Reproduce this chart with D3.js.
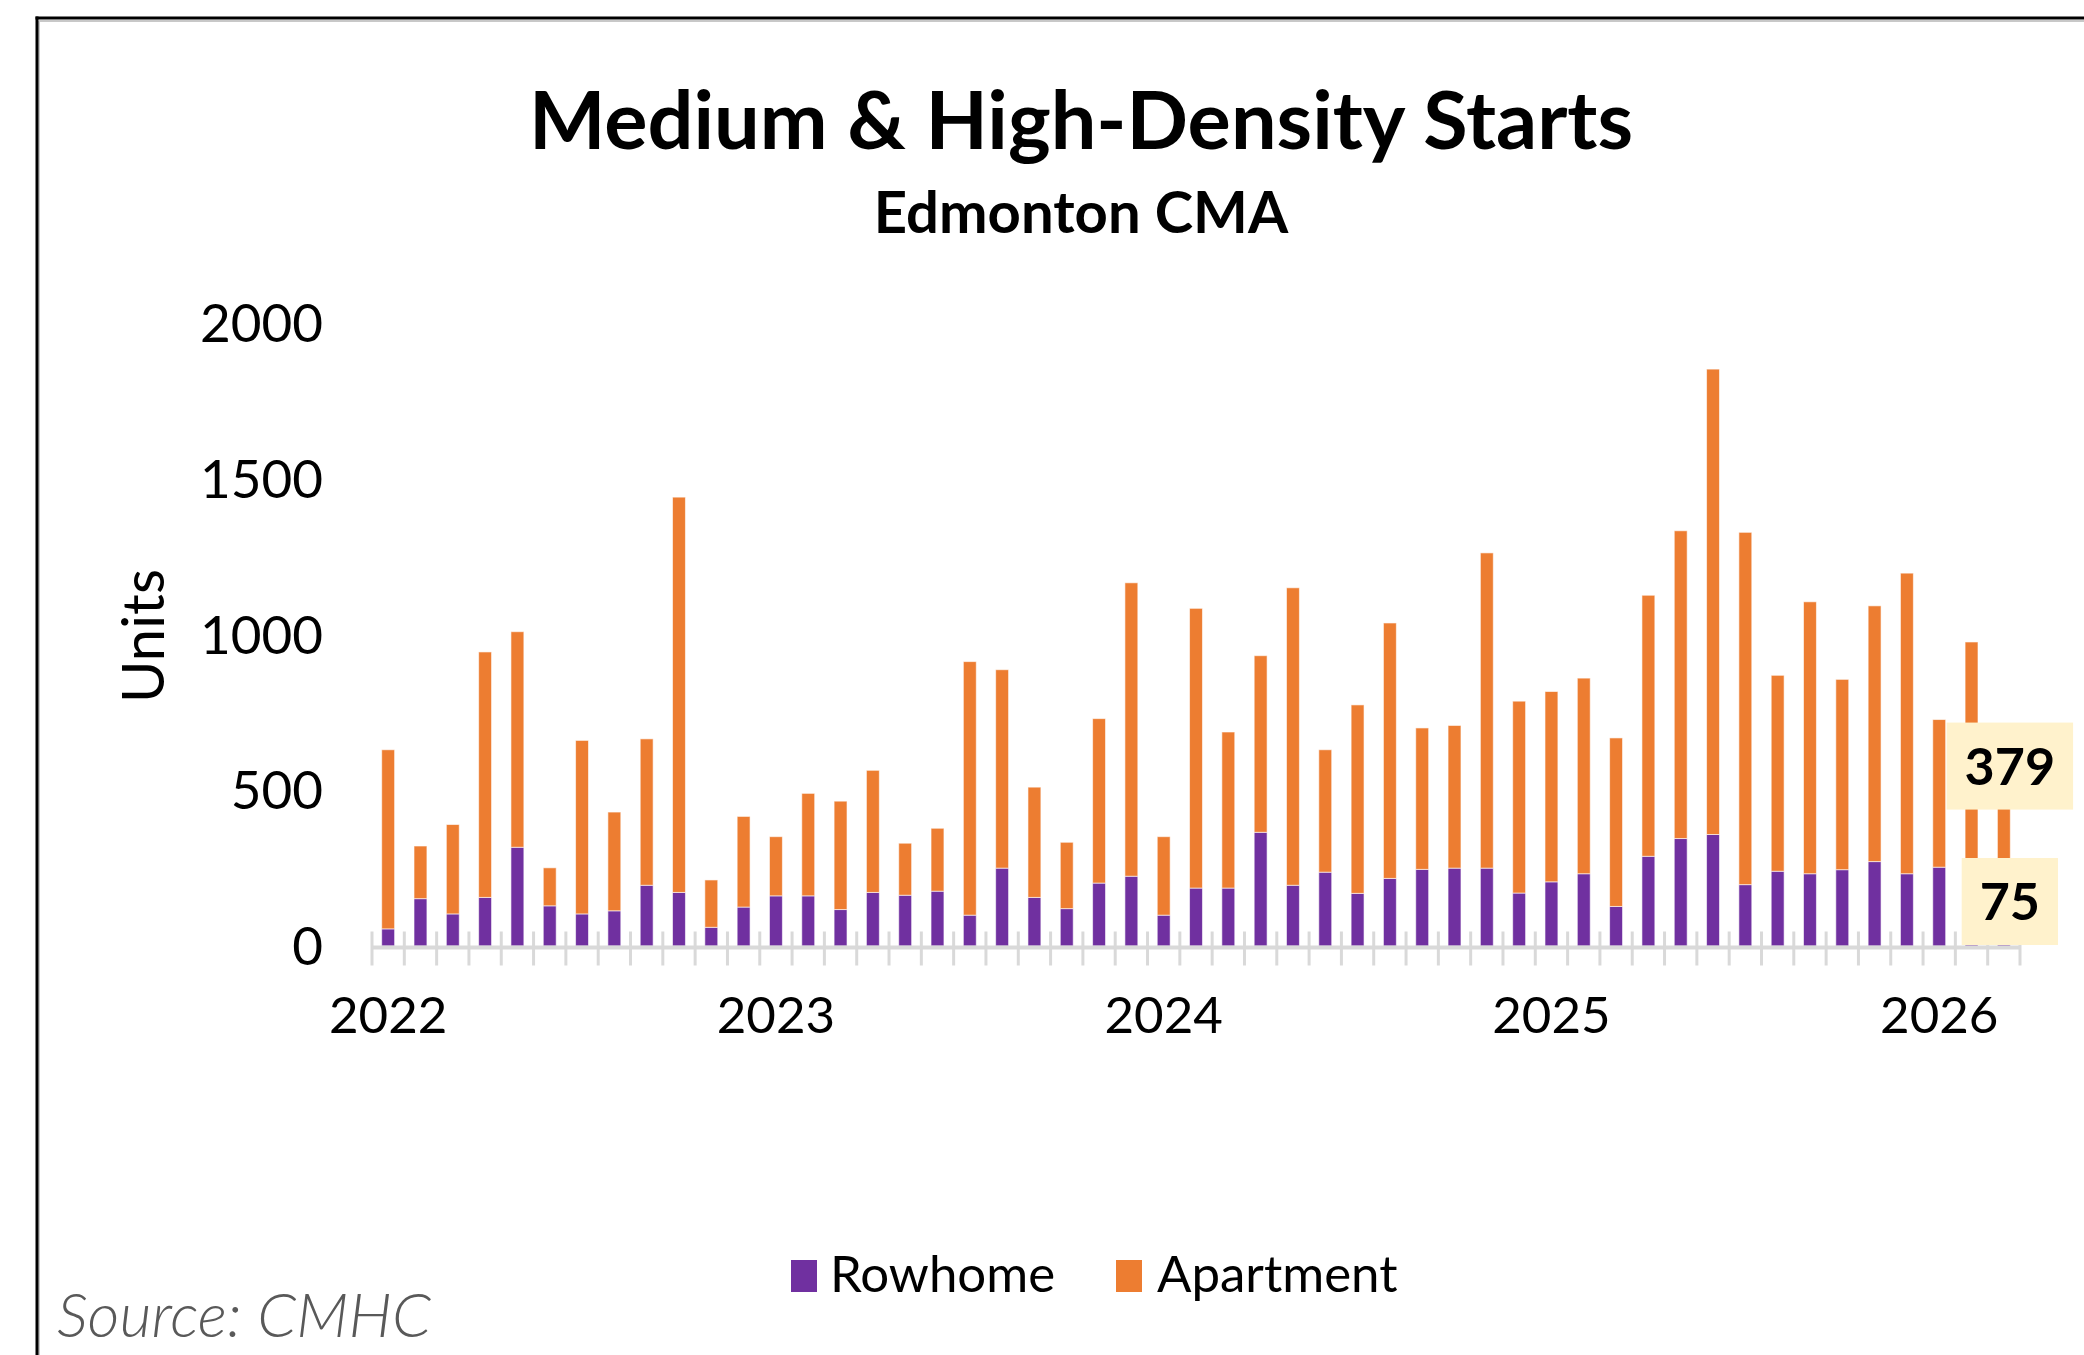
<!DOCTYPE html>
<html>
<head>
<meta charset="utf-8">
<script src="https://cdn.jsdelivr.net/npm/d3@7"></script>
<style>
  html, body { margin: 0; padding: 0; background: #fff; }
  svg { display: block; }
  text { font-family: Lato, "Open Sans", sans-serif; }
</style>
</head>
<body>
<script>
// ---- Data ----
const months = [
  "2022-01","2022-02","2022-03","2022-04","2022-05","2022-06","2022-07","2022-08","2022-09","2022-10","2022-11","2022-12",
  "2023-01","2023-02","2023-03","2023-04","2023-05","2023-06","2023-07","2023-08","2023-09","2023-10","2023-11","2023-12",
  "2024-01","2024-02","2024-03","2024-04","2024-05","2024-06","2024-07","2024-08","2024-09","2024-10","2024-11","2024-12",
  "2025-01","2025-02","2025-03","2025-04","2025-05","2025-06","2025-07","2025-08","2025-09","2025-10","2025-11","2025-12",
  "2026-01","2026-02","2026-03"
];
const rowhome = [
  55,152,103,156,317,129,103,113,195,172,60,125,
  161,161,117,172,163,176,99,250,156,120,202,224,
  99,186,186,365,195,237,169,217,246,250,250,170,
  206,232,127,288,345,358,197,240,232,245,271,232,
  253,230,75
];
const apartment = [
  575,169,287,788,692,122,557,317,470,1269,152,291,
  190,329,348,392,167,202,814,637,354,213,528,942,
  252,898,501,567,955,393,605,820,454,458,1012,616,
  611,628,541,838,988,1494,1131,629,873,611,821,965,
  474,746,379
];
const seriesNames = ["Rowhome", "Apartment"];
const seriesColors = ["#7030a0", "#ed7d31"];
const yTicks = [0, 500, 1000, 1500, 2000];
const yearTickMonths = ["2022-01","2023-01","2024-01","2025-01","2026-01"];
const yearTickLabels = ["2022","2023","2024","2025","2026"];
const titleText = "Medium & High-Density Starts";
const subtitleText = "Edmonton CMA";
const yAxisTitle = "Units";
const sourceText = "Source: CMHC";

// ---- Layout ----
const W = 2084, H = 1355;
const svg = d3.select("body").append("svg").attr("width", W).attr("height", H);

svg.append("rect").attr("width", W).attr("height", H).attr("fill", "#fff");

// frame (top + left lines)
svg.append("line").attr("x1", 39).attr("x2", W).attr("y1", 21).attr("y2", 21)
  .attr("stroke", "#c8c8c8").attr("stroke-width", 2);
svg.append("line").attr("x1", 39).attr("x2", 39).attr("y1", 21).attr("y2", H)
  .attr("stroke", "#c8c8c8").attr("stroke-width", 2);
svg.append("line").attr("x1", 35.5).attr("x2", W).attr("y1", 18).attr("y2", 18)
  .attr("stroke", "#000").attr("stroke-width", 3);
svg.append("line").attr("x1", 37).attr("x2", 37).attr("y1", 16.5).attr("y2", H)
  .attr("stroke", "#000").attr("stroke-width", 3);

// titles
svg.append("text").attr("x", 1081).attr("y", 149).attr("text-anchor", "middle")
  .attr("font-size", 81).attr("font-weight", 700).attr("fill", "#000").text(titleText);
svg.append("text").attr("x", 1081).attr("y", 233).attr("text-anchor", "middle")
  .attr("font-size", 58).attr("font-weight", 700).attr("fill", "#000").text(subtitleText);

// scales
const x = d3.scaleBand().domain(months).range([372, 2020]).paddingInner(0.6).paddingOuter(0.3);
const y = d3.scaleLinear().domain([0, 2000]).range([946, 323]);

// y tick labels
svg.append("g").selectAll("text").data(yTicks).join("text")
  .attr("x", 323).attr("y", d => y(d)).attr("dy", "0.36em")
  .attr("text-anchor", "end").attr("font-size", 53).attr("fill", "#000")
  .text(d => d);

// y axis title
svg.append("text").attr("transform", `translate(164,636) rotate(-90)`)
  .attr("text-anchor", "middle").attr("font-size", 58).attr("fill", "#000").text(yAxisTitle);

// stacked data
const data = months.map((m, i) => ({ month: m, Rowhome: rowhome[i], Apartment: apartment[i] }));
const stack = d3.stack().keys(seriesNames)(data);

const gBars = svg.append("g");
stack.forEach((layer, li) => {
  gBars.append("g").attr("fill", seriesColors[li])
    .selectAll("rect").data(layer).join("rect")
    .attr("x", d => x(d.data.month))
    .attr("width", x.bandwidth())
    .attr("y", d => y(d[1]))
    .attr("height", d => y(d[0]) - y(d[1]))
    .attr("stroke", "#fff").attr("stroke-opacity", 0.6).attr("stroke-width", 1);
});

// x axis line and ticks
const axisY = 947.5;
const gAxis = svg.append("g");
gAxis.append("line").attr("x1", x.range()[0]).attr("x2", x.range()[1])
  .attr("y1", axisY).attr("y2", axisY).attr("stroke", "#d9d9d9").attr("stroke-width", 4);
const boundaries = months.map(m => x(m) - (x.step() - x.bandwidth()) / 2).concat([x.range()[1]]);
gAxis.selectAll("line.tick").data(boundaries).join("line").attr("class", "tick")
  .attr("x1", d => d).attr("x2", d => d).attr("y1", axisY - 16).attr("y2", axisY + 18)
  .attr("stroke", "#d9d9d9").attr("stroke-width", 3);

// year labels
svg.append("g").selectAll("text").data(yearTickMonths).join("text")
  .attr("x", d => x(d) + x.bandwidth() / 2).attr("y", 1033)
  .attr("text-anchor", "middle").attr("font-size", 51).attr("fill", "#000")
  .text((d, i) => yearTickLabels[i]);

// data labels for last month
const lastIdx = months.length - 1;
const lastMonth = months[lastIdx];
const cx = x(lastMonth) + x.bandwidth() / 2 + 6;
function labelBox(value, bottomY) {
  const g = svg.append("g");
  const t = g.append("text").attr("x", cx).attr("text-anchor", "middle")
    .attr("font-size", 52).attr("font-weight", 700).attr("fill", "#000").text(value);
  const bb = t.node().getBBox();
  const bw = bb.width + 36, bh = 87;
  g.insert("rect", "text").attr("x", cx - bw / 2).attr("y", bottomY - bh)
    .attr("width", bw).attr("height", bh).attr("fill", "#fff2cc");
  t.attr("y", bottomY - bh / 2).attr("dy", "0.36em");
}
labelBox(apartment[lastIdx], y(rowhome[lastIdx] + apartment[lastIdx]) + 5);
labelBox(rowhome[lastIdx], y(0) - 1);

// legend
const legendItems = [
  { name: seriesNames[0], color: seriesColors[0], sx: 791, tx: 830 },
  { name: seriesNames[1], color: seriesColors[1], sx: 1116, tx: 1157 }
];
const gLeg = svg.append("g");
legendItems.forEach(it => {
  gLeg.append("rect").attr("x", it.sx).attr("y", 1260).attr("width", 26).attr("height", 32).attr("fill", it.color);
  gLeg.append("text").attr("x", it.tx).attr("y", 1292).attr("font-size", 51).attr("fill", "#000").text(it.name);
});

// source
svg.append("text").attr("x", 57).attr("y", 1337).attr("font-size", 62)
  .attr("font-style", "italic").attr("font-weight", 300).attr("fill", "#595959").text(sourceText);
</script>
</body>
</html>
